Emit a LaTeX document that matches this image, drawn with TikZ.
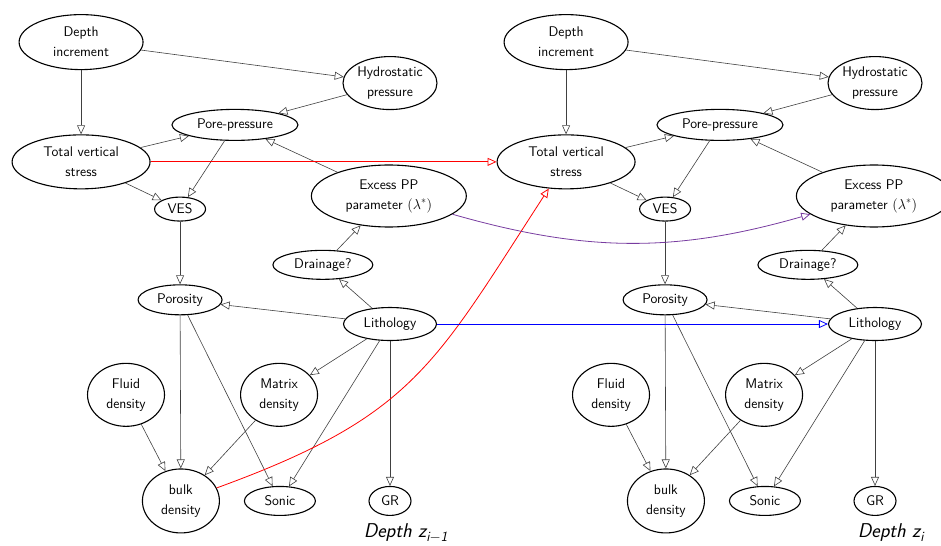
\documentclass[tikz,border=0pt]{standalone}
\usepackage{amsmath}
\usepackage{xcolor}
\usepackage{tikz}
\usetikzlibrary{arrows.meta, shapes}

\definecolor{lagpurple}{RGB}{120,60,160}

\begin{document}
\begin{tikzpicture}[
        font=\sffamily\fontsize{14}{20}\selectfont,
        var/.style={ellipse, draw, line width=1.1pt, inner sep=0pt, align=center},
        arrow/.style={draw=black!75, line width=0.6pt, -{Triangle[open, length=9pt, width=8pt]}},
        lag/.style={line width=0.8pt, -{Triangle[open, length=9pt, width=8pt]}}
    ]
    \useasboundingbox (0,0) rectangle (33.08,-19.19);

    % one slice per depth step
    \foreach \s/\dx/\sub in {A/0/{\textit{i}$-$1}, B/17.05/{\textit{i}}} {
    \begin{scope}[xshift=\dx cm]
        \node (depth\s) [var, minimum width=124pt, minimum height=55pt] at (2.85,-1.48) {Depth\\increment};
        \node (hydro\s) [var, minimum width=94pt, minimum height=53pt] at (13.71,-2.92) {Hydrostatic\\pressure};
        \node (pore\s) [var, minimum width=126pt, minimum height=31pt] at (8.26,-4.39) {Pore-pressure};
        \node (tvs\s) [var, minimum width=138pt, minimum height=54pt] at (2.85,-5.69) {Total vertical\\stress};
        \node (ves\s) [var, minimum width=51pt, minimum height=24pt] at (6.33,-7.35) {VES};
        \node (excess\s) [var, minimum width=155pt, minimum height=62pt] at (13.67,-6.89) {Excess PP\\parameter $(\lambda^*)$};
        \node (drain\s) [var, minimum width=100pt, minimum height=29pt] at (11.35,-9.31) {Drainage?};
        \node (poros\s) [var, minimum width=84pt, minimum height=30pt] at (6.33,-10.54) {Porosity};
        \node (litho\s) [var, minimum width=93pt, minimum height=33pt] at (13.71,-11.39) {Lithology};
        \node (fluid\s) [var, minimum width=77pt, minimum height=63pt] at (4.43,-13.88) {Fluid\\density};
        \node (matrix\s) [var, minimum width=77pt, minimum height=63pt] at (9.81,-13.88) {Matrix\\density};
        \node (bulk\s) [var, minimum width=77pt, minimum height=64pt] at (6.36,-17.61) {bulk\\density};
        \node (sonic\s) [var, minimum width=71pt, minimum height=29pt] at (9.84,-17.61) {Sonic};
        \node (gr\s) [var, minimum width=42pt, minimum height=29pt] at (13.71,-17.61) {GR};
        \node (step\s) [anchor=base, font=\sffamily\fontsize{20}{24}\selectfont\itshape] at (14.27,-18.91) {Depth z\textsubscript{\sub}};

        \draw [arrow] (depth\s) -- (hydro\s);
        \draw [arrow] (depth\s) -- (tvs\s);
        \draw [arrow] (hydro\s) -- (pore\s);
        \draw [arrow] (tvs\s) -- (pore\s);
        \draw [arrow] (tvs\s) -- (ves\s);
        \draw [arrow] (pore\s) -- (ves\s);
        \draw [arrow] (excess\s) -- (pore\s);
        \draw [arrow] (drain\s) -- (excess\s);
        \draw [arrow] (ves\s) -- (poros\s);
        \draw [arrow] (litho\s) -- (poros\s);
        \draw [arrow] (litho\s) -- (drain\s);
        \draw [arrow] (litho\s) -- (matrix\s);
        \draw [arrow] (litho\s) -- (sonic\s);
        \draw [arrow] (litho\s) -- (gr\s);
        \draw [arrow] (poros\s) -- (bulk\s);
        \draw [arrow] (poros\s) -- (sonic\s);
        \draw [arrow] (fluid\s) -- (bulk\s);
        \draw [arrow] (matrix\s) -- (bulk\s);
    \end{scope}
    }

    % links from step i-1 to step i
    \draw [lag, red] (tvsA) -- (tvsB);
    \draw [lag, red] (bulkA) to[out=20, in=237, looseness=1.2] (tvsB);
    \draw [lag, lagpurple] (excessA) to[bend right=16] (excessB);
    \draw [lag, blue] (lithoA) -- (lithoB);
\end{tikzpicture}
\end{document}
